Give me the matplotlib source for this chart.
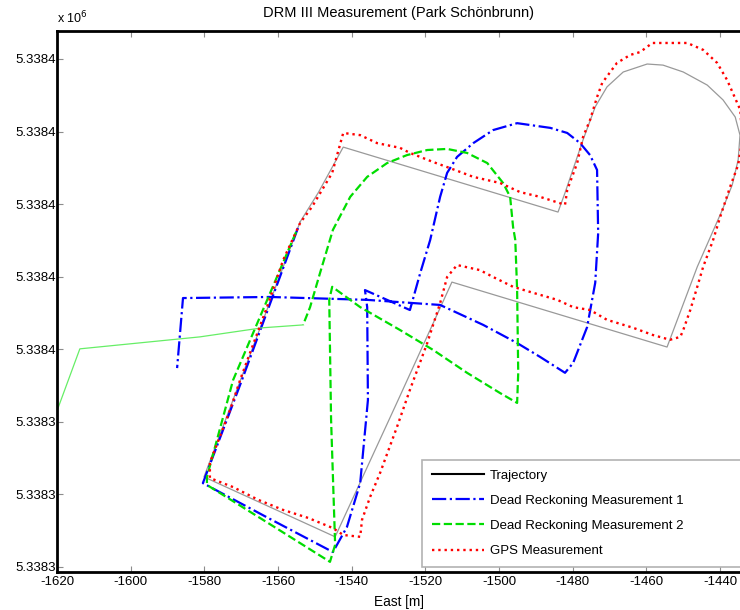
import numpy as np
import matplotlib
matplotlib.use("Agg")
import matplotlib.pyplot as plt
from matplotlib.lines import Line2D
from matplotlib.ticker import FuncFormatter, MultipleLocator

plt.rcParams["font.family"] = ["Liberation Sans", "DejaVu Sans"]
plt.rcParams["axes.unicode_minus"] = False

# reference trajectory (closed loop), east [m] / north [m]
traj_east = [-1554.0, -1580.1, -1544.5, -1527.4, -1512.8, -1454.4, -1446.2, -1439.4,
             -1436.7, -1435.1, -1434.6, -1435.9, -1439.2, -1443.5, -1450.0, -1455.5,
             -1459.8, -1466.3, -1470.7, -1473.9, -1477.2, -1482.1, -1484.0, -1542.3,
             -1549.1, -1554.0]
traj_north = [5338395.1, 5338324.8, 5338308.3, 5338346.0, 5338378.5, 5338360.6, 5338382.7, 5338398.4,
              5338405.3, 5338412.2, 5338419.0, 5338424.0, 5338428.7, 5338432.8, 5338436.4, 5338438.3,
              5338438.6, 5338436.4, 5338432.3, 5338426.8, 5338417.7, 5338403.1, 5338397.8, 5338415.7,
              5338403.1, 5338395.1]

# dead reckoning 1
dr1_east = [-1554.6, -1569.8, -1580.4, -1562.7, -1545.1, -1541.3, -1537.7, -1535.6,
            -1535.8, -1536.4, -1524.2, -1521.4, -1518.7, -1516.0, -1514.1, -1511.4,
            -1507.0, -1501.6, -1495.1, -1486.1, -1481.5, -1478.0, -1475.3, -1473.4,
            -1473.1, -1473.9, -1476.1, -1479.9, -1482.1, -1488.9, -1495.1, -1504.3,
            -1516.0, -1535.8, -1562.2, -1585.8, -1587.4]
dr1_north = [5338393.4, 5338351.5, 5338323.1, 5338313.5, 5338304.1, 5338311.0, 5338323.1, 5338346.0,
             5338371.6, 5338376.3, 5338370.8, 5338381.0, 5338390.1, 5338402.0, 5338408.6, 5338413.0,
             5338416.8, 5338420.4, 5338422.3, 5338421.0, 5338419.6, 5338416.8, 5338413.5, 5338409.4,
             5338392.0, 5338378.3, 5338366.1, 5338356.2, 5338353.5, 5338357.9, 5338361.7, 5338366.7,
             5338372.2, 5338373.6, 5338374.4, 5338374.1, 5338354.8]

# dead reckoning 2
dr2_east = [-1555.1, -1572.2, -1579.3, -1579.3, -1562.7, -1545.9, -1544.5, -1545.6,
            -1546.1, -1545.3, -1537.7, -1526.9, -1517.9, -1508.7, -1499.7, -1495.1,
            -1494.8, -1495.1, -1495.6, -1496.2, -1497.0, -1498.9, -1503.2, -1508.7,
            -1514.1, -1519.5, -1525.0, -1530.4, -1535.8, -1540.4, -1545.1, -1548.6,
            -1551.3, -1553.2, -1564.3, -1581.2, -1613.8, -1622.0]
dr2_north = [5338392.3, 5338351.5, 5338324.8, 5338322.6, 5338312.1, 5338301.4, 5338306.1, 5338340.5,
             5338373.6, 5338377.2, 5338371.6, 5338365.3, 5338359.8, 5338353.5, 5338347.9, 5338345.2,
             5338353.5, 5338376.3, 5338390.1, 5338393.7, 5338402.0, 5338405.8, 5338411.3, 5338414.1,
             5338415.2, 5338414.9, 5338413.5, 5338411.3, 5338407.5, 5338402.0, 5338392.9, 5338381.0,
             5338371.6, 5338366.7, 5338365.9, 5338363.4, 5338360.1, 5338337.5]
dr2_tail_start = 33  # sparse end of the second run

# GPS
gps_east = [-1554.0, -1558.6, -1563.0, -1567.6, -1570.3, -1573.0, -1578.5, -1578.5,
            -1572.2, -1565.4, -1558.6, -1551.8, -1545.1, -1542.3, -1537.7, -1537.2,
            -1535.0, -1532.3, -1527.7, -1524.2, -1519.5, -1516.0, -1514.1, -1511.4,
            -1505.2, -1501.6, -1496.2, -1491.6, -1484.2, -1479.9, -1475.3, -1470.7,
            -1463.6, -1458.2, -1453.6, -1450.8, -1450.0, -1448.1, -1446.2, -1444.6,
            -1441.9, -1440.0, -1437.3, -1435.1, -1434.0, -1434.5, -1438.1, -1440.8,
            -1444.6, -1448.9, -1458.4, -1461.7, -1464.4, -1468.0, -1472.0, -1473.4,
            -1475.3, -1477.2, -1478.8, -1481.5, -1482.1, -1488.9, -1494.3, -1499.7,
            -1507.0, -1513.3, -1517.9, -1524.2, -1526.9, -1533.1, -1537.7, -1542.3,
            -1545.3, -1550.8, -1554.0]
gps_north = [5338394.8, 5338384.6, 5338371.6, 5338359.0, 5338351.5, 5338343.3, 5338328.7, 5338324.5,
             5338322.0, 5338318.5, 5338315.7, 5338313.5, 5338310.7, 5338308.8, 5338308.3, 5338313.0,
             5338319.3, 5338325.9, 5338338.6, 5338348.8, 5338361.7, 5338372.7, 5338379.9, 5338383.2,
             5338381.8, 5338379.9, 5338377.2, 5338375.8, 5338373.6, 5338371.6, 5338370.8, 5338368.1,
             5338365.9, 5338363.9, 5338362.6, 5338363.4, 5338365.3, 5338370.8, 5338377.2, 5338382.7,
             5338390.1, 5338396.4, 5338404.7, 5338410.8, 5338417.7, 5338425.9, 5338434.2, 5338438.9,
             5338442.5, 5338444.4, 5338444.4, 5338441.9, 5338441.1, 5338438.9, 5338433.4, 5338429.5,
             5338423.2, 5338418.5, 5338411.3, 5338403.9, 5338399.8, 5338402.0, 5338403.3, 5338405.8,
             5338407.5, 5338409.9, 5338411.6, 5338414.1, 5338415.5, 5338416.8, 5338419.0, 5338419.6,
             5338408.6, 5338399.2, 5338394.8]

labels = ["Trajectory", "Dead Reckoning Measurement 1",
          "Dead Reckoning Measurement 2", "GPS Measurement"]

fig = plt.figure(figsize=(7.4, 6.1), dpi=100)
ax = fig.add_axes([57 / 740, 38 / 610, 683 / 740, 541 / 610])

ax.plot(traj_east, traj_north, color="0.6", lw=0.9)
l1, = ax.plot(dr1_east, dr1_north, color="blue", ls="-.", lw=1.6)
l2, = ax.plot(dr2_east[:dr2_tail_start + 1], dr2_north[:dr2_tail_start + 1],
              color="#00dd00", ls="--", lw=1.6)
ax.plot(dr2_east[dr2_tail_start:], dr2_north[dr2_tail_start:], color="#66ee66", lw=0.9)
l3, = ax.plot(gps_east, gps_north, color="red", ls=":", lw=1.7)

ax.set_xlim(-1620, -1434.6)
ax.set_ylim(5338298.6, 5338447.7)
ax.xaxis.set_major_locator(MultipleLocator(20))
ax.yaxis.set_major_locator(MultipleLocator(20))
ax.yaxis.set_major_formatter(FuncFormatter(lambda v, p: f"{v / 1e6:.4f}"))

ax.tick_params(direction="in", length=4, color="0.55", labelsize=9.5, top=True,
               right=False, pad=3)
ax.tick_params(axis="y", pad=1)
for s in ["left", "bottom", "top"]:
    ax.spines[s].set_linewidth(2)
ax.spines["right"].set_visible(False)

ax.set_title("DRM III Measurement (Park Schönbrunn)", fontsize=10.5, pad=10)
ax.set_xlabel("East [m]", fontsize=9.8, labelpad=5)
fig.text(57 / 740, 1 - 18 / 610, r"x 10$^6$", fontsize=9, va="center")

traj_handle = Line2D([], [], color="black", lw=1.5)
leg = ax.legend([traj_handle, l1, l2, l3], labels, loc="lower left",
                bbox_to_anchor=(0.534, 0.009, 0.48, 0.2), mode="expand",
                fontsize=9.5, labelspacing=0.98, handlelength=4.0, handletextpad=0.4,
                borderpad=0.75, borderaxespad=0, fancybox=False, framealpha=1,
                edgecolor="0.7")
leg.get_frame().set_linewidth(1.2)

fig.savefig("out.png", dpi=100)
